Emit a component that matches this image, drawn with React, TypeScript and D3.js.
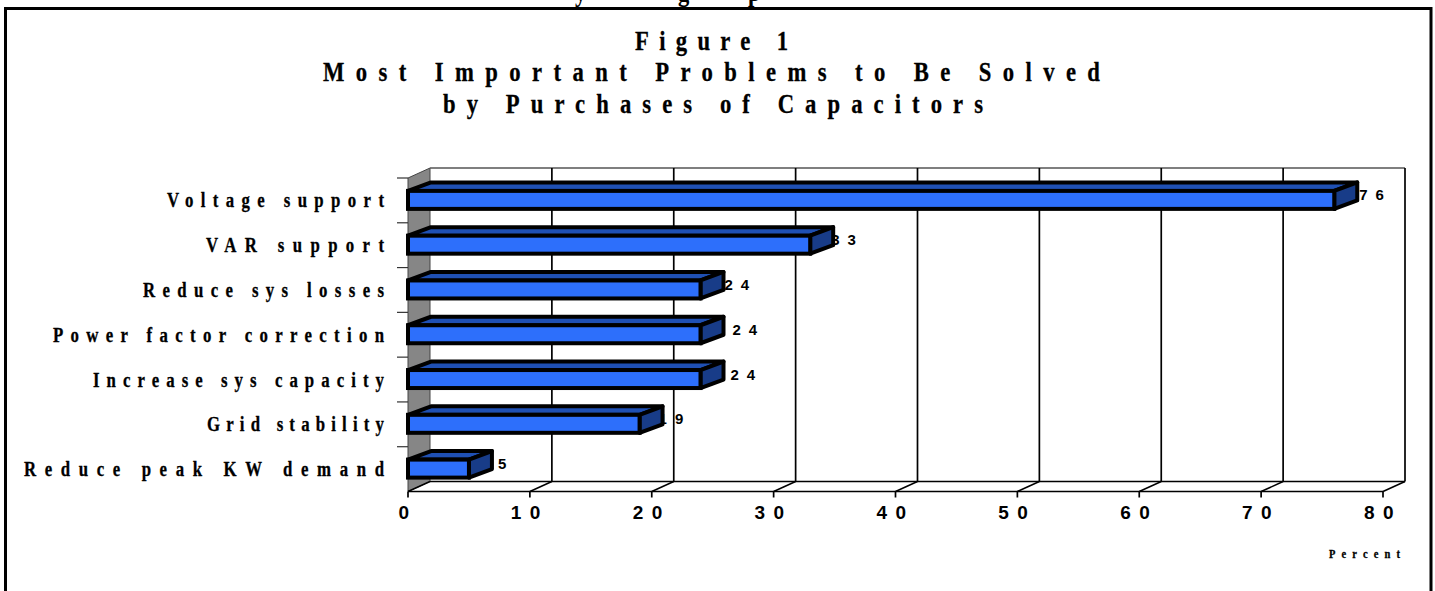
import React from "react";
import * as d3 from "d3";

const categories = ["Voltage support", "VAR support", "Reduce sys losses", "Power factor correction", "Increase sys capacity", "Grid stability", "Reduce peak KW demand"];
const values = [76, 33, 24, 24, 24, 19, 5];
const xTicks = [0, 10, 20, 30, 40, 50, 60, 70, 80];
const titleLines = ["Figure 1", "Most Important Problems to Be Solved", "by Purchases of Capacitors"];
const clippedHeadingGlyphs = ["y", "g", "p"];

const titleLeft = [635, 323, 443];
const titleWidth = [153, 777, 540];
const titleBase = [50, 81, 113];
const labelLeft = [167, 206, 143, 53, 93, 207, 24];
const valueOffset = [25, 21, 24, 32, 30, 19, 29];
const headingX = [575, 678, 748];

const W = 1435, H = 591;
const x0 = 408, x1 = 1383, yTop = 178, yBot = 491.5, dx = 22, dy = 10;
const labelRight = 384;
const serif = "'Liberation Serif', serif";
const sans = "'Liberation Sans', sans-serif";
const SX = 0.84;

function Squeezed({ x, y, w, size, children }: { x: number; y: number; w: number; size: number; children: string }) {
  return (
    <text transform={`translate(${x},${y}) scale(${SX},1)`} textLength={w / SX} lengthAdjust="spacing"
      fontFamily={serif} fontWeight="bold" fontSize={size} fill="#000" stroke="#000" strokeWidth={0.3}>{children}</text>
  );
}

export default function App() {
  const x = d3.scaleLinear().domain([0, 80]).range([x0, x1]);
  const y = d3.scaleBand<string>().domain(categories).range([yTop, yBot]).padding(0);
  const bw = y.bandwidth();
  const barH = 18, bdx = 23, bdy = 8.5;
  return (
    <svg width={W} height={H} viewBox={`0 0 ${W} ${H}`} style={{ position: "fixed", left: 0, top: 0, background: "#fff" }}>
      {clippedHeadingGlyphs.map((g, i) => (
        <text key={g} transform={`translate(${headingX[i]},0.5) scale(${SX},1)`} fontFamily={serif} fontWeight="bold" fontSize={27}>{g}</text>
      ))}
      <rect x={5.5} y={8.5} width={1425.5} height={600} fill="#fff" stroke="#000" strokeWidth={3} />
      {titleLines.map((t, i) => (
        <Squeezed key={t} x={titleLeft[i]} y={titleBase[i]} w={titleWidth[i]} size={27}>{t}</Squeezed>
      ))}
      <polygon points={`${x0},${yTop} ${x0 + dx},${yTop - dy} ${x0 + dx},${yBot - dy} ${x0},${yBot}`} fill="#868686" stroke="#444" strokeWidth={1} />
      <line x1={x0 + dx} x2={x1 + dx} y1={yTop - dy} y2={yTop - dy} stroke="#555" strokeWidth={1.5} />
      {xTicks.map(t => (
        <g key={t}>
          {t > 0 && <line x1={x(t) + dx} x2={x(t) + dx} y1={yTop - dy} y2={yBot - dy} stroke="#000" strokeWidth={1.7} />}
          <line x1={x(t)} x2={x(t) + dx} y1={yBot} y2={yBot - dy} stroke="#000" strokeWidth={1.5} />
          <line x1={x(t)} x2={x(t)} y1={yBot} y2={yBot + 6} stroke="#000" strokeWidth={1.7} />
          <text x={x(t)} y={519} textAnchor="middle" fontFamily={sans} fontWeight="bold" fontSize={19} letterSpacing={8.5}>{t}</text>
        </g>
      ))}
      <line x1={x0 + dx} x2={x1 + dx} y1={yBot - dy} y2={yBot - dy} stroke="#000" strokeWidth={1.7} />
      <line x1={x0} x2={x1} y1={yBot} y2={yBot} stroke="#000" strokeWidth={1.7} />
      {categories.map((_, i) => (
        <line key={i} x1={x0 - 11} x2={x0} y1={yTop + i * bw} y2={yTop + i * bw} stroke="#333" strokeWidth={1.2} />
      ))}
      {categories.map((c, i) => {
        const v = values[i];
        const yb = (y(c) as number) + bw / 2 + 8.5;
        const yt = yb - barH;
        const xr = x(v);
        return (
          <g key={c}>
            <text x={xr + valueOffset[i]} y={yb - 8.5} fontFamily={sans} fontWeight="bold" fontSize={15} letterSpacing={8}>{v}</text>
            <polygon points={`${x0},${yt} ${x0 + bdx},${yt - bdy} ${xr + bdx},${yt - bdy} ${xr},${yt}`} fill="#1f50b4" stroke="#000" strokeWidth={4} strokeLinejoin="round" />
            <polygon points={`${xr},${yt} ${xr + bdx},${yt - bdy} ${xr + bdx},${yb - bdy} ${xr},${yb}`} fill="#183c88" stroke="#000" strokeWidth={4} strokeLinejoin="round" />
            <rect x={x0} y={yt} width={xr - x0} height={barH} fill="#2d6ffb" stroke="#000" strokeWidth={4} />
            <Squeezed x={labelLeft[i]} y={yb - 1.5} w={labelRight - labelLeft[i]} size={20}>{c}</Squeezed>
          </g>
        );
      })}
      <Squeezed x={1329} y={557.5} w={71} size={12.5}>Percent</Squeezed>
    </svg>
  );
}
